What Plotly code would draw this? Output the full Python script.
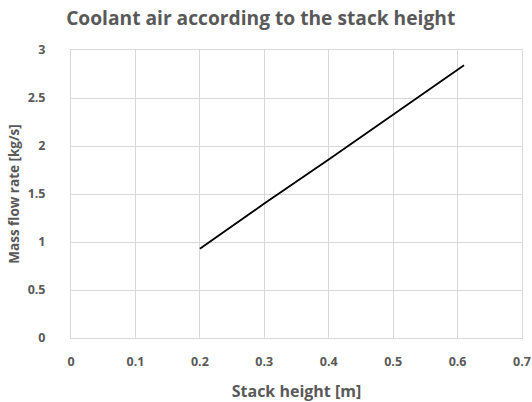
import plotly.graph_objects as go

# Stack height [m] and the coolant air mass flow rate [kg/s]
stack_height = [0.2, 0.3, 0.4, 0.5, 0.61]
mass_flow = [0.93, 1.40, 1.86, 2.33, 2.84]

x_ticks = [0, 0.1, 0.2, 0.3, 0.4, 0.5, 0.6, 0.7]
y_ticks = [0, 0.5, 1, 1.5, 2, 2.5, 3]

font_family = "Open Sans, Noto Sans, sans-serif"
text_grey = "#595959"
grid_grey = "#d9d9d9"

fig = go.Figure()
fig.add_trace(go.Scatter(
    x=stack_height, y=mass_flow, mode="lines",
    line=dict(color="#000000", width=1.8),
    showlegend=False,
))

fig.update_layout(
    width=532, height=402,
    margin=dict(l=71, r=10, t=50, b=64),
    paper_bgcolor="white", plot_bgcolor="white",
    title=dict(
        text="<b>Coolant air according to the stack height</b>",
        x=0.49, xanchor="center", y=0.955, yanchor="middle",
        font=dict(family=font_family, size=19.2, color=text_grey),
    ),
    font=dict(family=font_family, color=text_grey),
)

fig.update_xaxes(
    range=[0, 0.7], tickvals=x_ticks,
    ticktext=[f"<b>{v:g}</b>" for v in x_ticks],
    tickfont=dict(size=12.5, color=text_grey),
    showgrid=True, gridcolor=grid_grey, gridwidth=1,
    showline=True, linecolor=grid_grey, linewidth=1, mirror=True,
    zeroline=False, ticks="", ticklen=0, ticklabelstandoff=12,
    automargin=False,
    title=dict(text="<b>Stack height [m]</b>",
               font=dict(size=16, color=text_grey), standoff=16),
)
fig.update_yaxes(
    range=[0, 3], tickvals=y_ticks,
    ticktext=[f"<b>{v:g}</b>" for v in y_ticks],
    tickfont=dict(size=12.5, color=text_grey),
    showgrid=True, gridcolor=grid_grey, gridwidth=1,
    showline=True, linecolor=grid_grey, linewidth=1, mirror=True,
    zeroline=False, ticks="", ticklen=0, ticklabelstandoff=22,
    automargin=False,
    title=dict(text="<b>Mass flow rate [kg/s]</b>",
               font=dict(size=13.5, color=text_grey), standoff=4),
)

fig.write_html("out.html")
